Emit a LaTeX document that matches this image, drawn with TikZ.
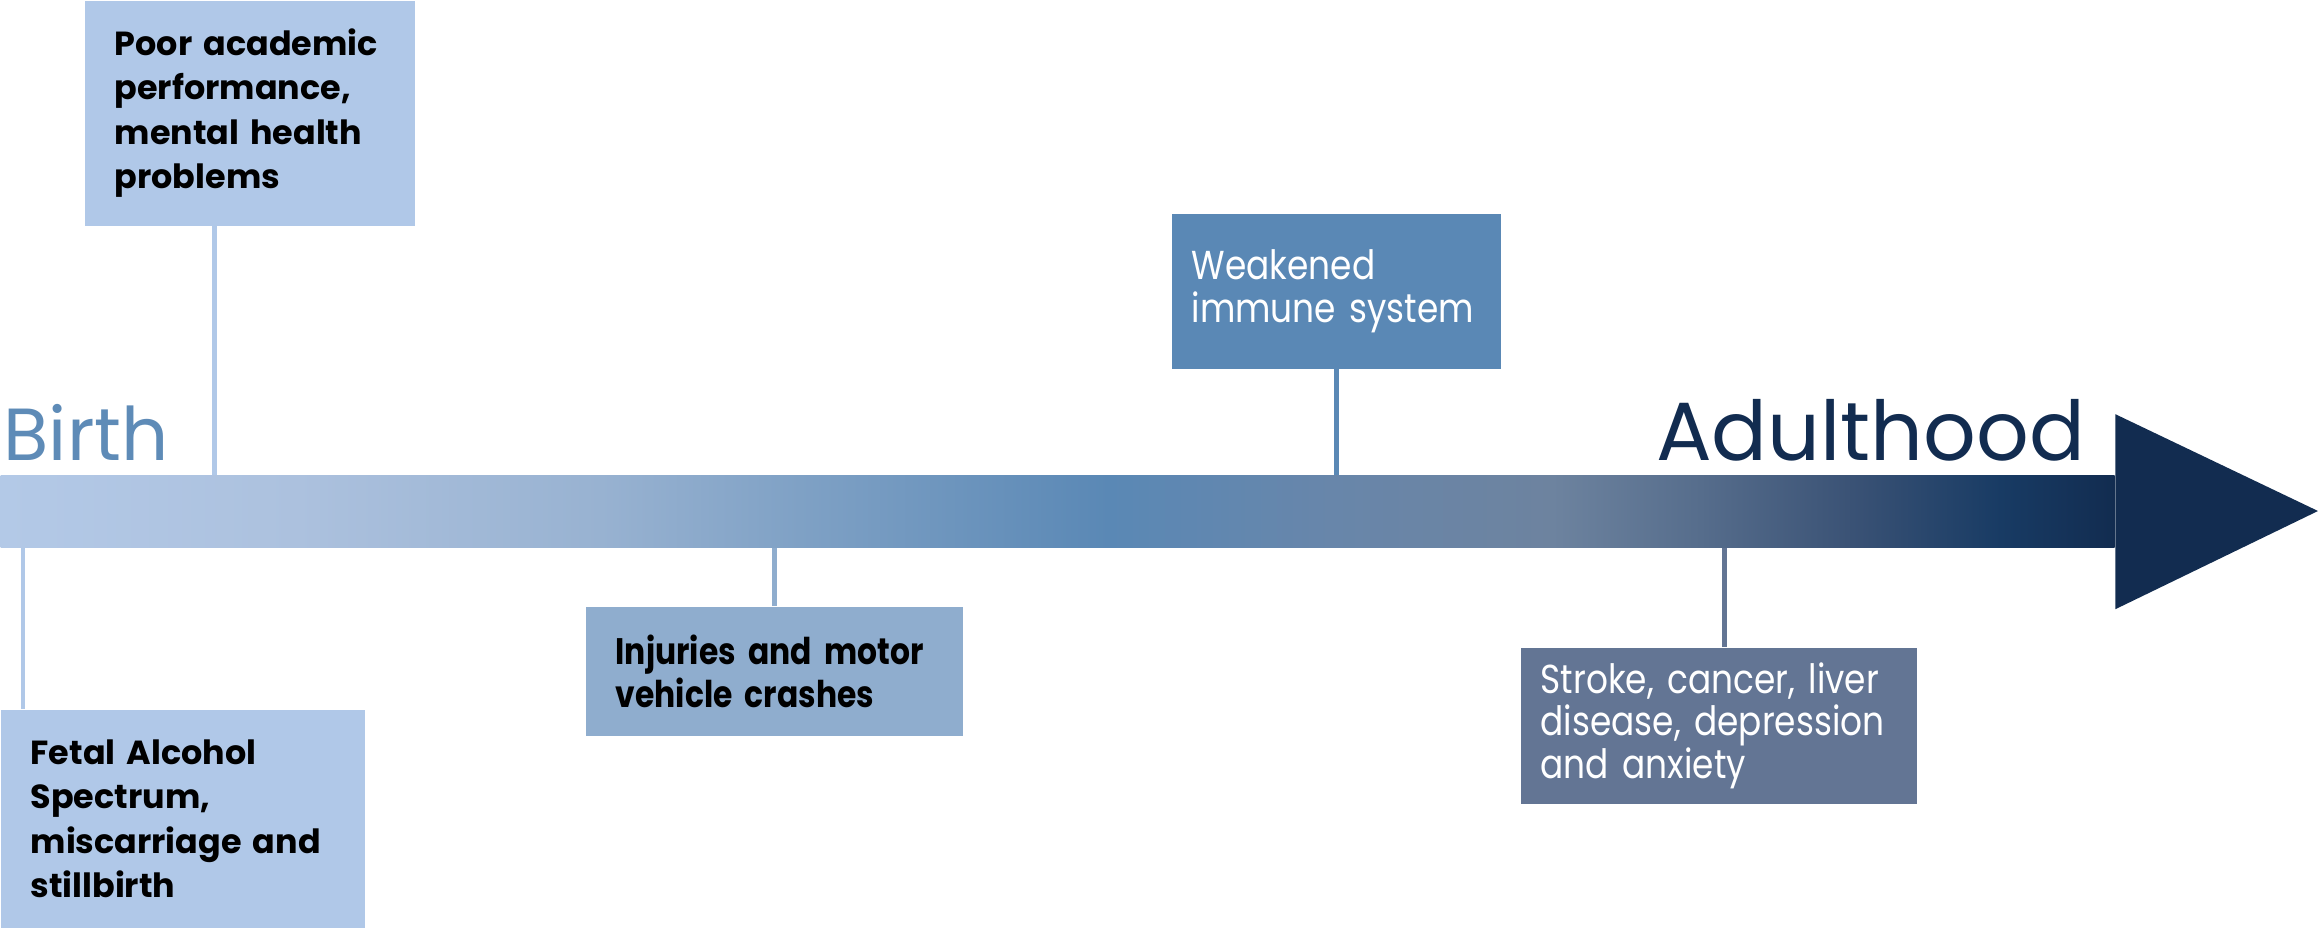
\documentclass[tikz,border=0pt]{standalone}
\usepackage{fontspec}
\setmainfont{Poppins}
\newfontfamily\narrowfont{Poppins}[FakeStretch=0.85]
\usetikzlibrary{positioning}

\definecolor{paleblue}{HTML}{B0C8E8}
\definecolor{midblue}{HTML}{8FADCE}
\definecolor{steelblue}{HTML}{5A88B5}
\definecolor{slateblue}{HTML}{637594}
\definecolor{navyblue}{HTML}{122C50}
\definecolor{birthblue}{HTML}{5E8BB7}
% colour stops of the timeline bar
\definecolor{lc0}{HTML}{B3C9E7}
\definecolor{lc1}{HTML}{ACC1DE}
\definecolor{lc2}{HTML}{98B2D1}
\definecolor{lc3}{HTML}{7FA1C5}
\definecolor{lc4}{HTML}{5A88B5}
\definecolor{lc5}{HTML}{6886AA}
\definecolor{lc6}{HTML}{6D839F}
\definecolor{lc7}{HTML}{566D8C}
\definecolor{lc8}{HTML}{3A5275}
\definecolor{lc9}{HTML}{183B64}
\definecolor{lc10}{HTML}{122C50}
\pgfdeclarehorizontalshading{lifeline}{100bp}{%
  color(0bp)=(lc0); color(25bp)=(lc0); color(32bp)=(lc1); color(39.2bp)=(lc2);
  color(43.9bp)=(lc3); color(51.2bp)=(lc4); color(56.5bp)=(lc5); color(61.7bp)=(lc6);
  color(65.2bp)=(lc7); color(68.8bp)=(lc8); color(72.3bp)=(lc9); color(75bp)=(lc10);
  color(100bp)=(lc10)}

\begin{document}
\begin{tikzpicture}[
    x=0.1mm, y=-0.1mm,
    box/.style={anchor=north west, inner xsep=3mm, inner ysep=0pt, align=left,
                execute at begin node={\hyphenpenalty=10000\relax}},
    boldbox/.style={box, text=black, font=\bfseries\fontsize{9.5}{12.6}\selectfont},
    narrowbox/.style={box, inner xsep=2mm, text=white, font=\narrowfont\fontsize{11.5}{12}\selectfont},
    age/.style={inner sep=0pt},
    link/.style={line width=0.5mm, draw=#1},
    bar/.style={anchor=north west, inner sep=0pt, minimum width=211.4mm, minimum height=7.2mm, shade, shading=lifeline}
]
   \useasboundingbox (0,0) rectangle (2318,929);

   % Timeline
   \node[bar] (bar) at (0,475) {};
   \coordinate (tip) at (2318,511);
   \fill[navyblue] ([yshift=9.75mm]bar.east) -- (tip) -- ([yshift=-9.75mm]bar.east) -- cycle;

   \node[age, anchor=base west, text=birthblue, font=\fontsize{21}{21}\selectfont] (birth) at (3,460) {Birth};
   \node[age, anchor=base east, text=navyblue, font=\fontsize{23.5}{23.5}\selectfont] (adult) at (2086,460) {Adulthood};

   % Effects above the line
   \node[boldbox, fill=paleblue, text width=27mm, minimum height=22.5mm] (acad) at (84,0)
        {Poor~academic\\performance,\\mental~health\\problems};
   \node[narrowbox, fill=steelblue, text width=28.9mm, minimum height=15.5mm] (immune) at (1171,213)
        {Weakened\\immune~system};

   % Effects below the line
   \node[boldbox, fill=paleblue, text width=30.4mm, minimum height=21.8mm] (fetal) at (0,709)
        {Fetal~Alcohol\\Spectrum,\\miscarriage~and\\stillbirth};
   \node[boldbox, fill=midblue, text width=31.7mm, minimum height=12.9mm,
         font=\narrowfont\bfseries\fontsize{10.5}{12.2}\selectfont] (crash) at (585,606)
        {Injuries~and~motor\\vehicle~crashes};
   \node[narrowbox, fill=slateblue, text width=35.6mm, minimum height=15.6mm] (stroke) at (1520,647)
        {Stroke,~cancer,~liver\\disease,~depression\\and~anxiety};

   % Connectors
   \coordinate (acadfoot) at ([xshift=13mm]acad.south west);
   \coordinate (fetalhead) at ([xshift=2.3mm]fetal.north west);
   \coordinate (strokehead) at ([xshift=0.6mm]stroke.north);
   \draw[link=paleblue] (acadfoot) -- (acadfoot |- bar.north);
   \draw[link=steelblue] (immune.south) -- (immune.south |- bar.north);
   \draw[link=paleblue] (fetalhead) -- (fetalhead |- bar.south);
   \draw[link=midblue] (crash.north) -- (crash.north |- bar.south);
   \draw[link=slateblue] (strokehead) -- (strokehead |- bar.south);

\end{tikzpicture}
\end{document}
